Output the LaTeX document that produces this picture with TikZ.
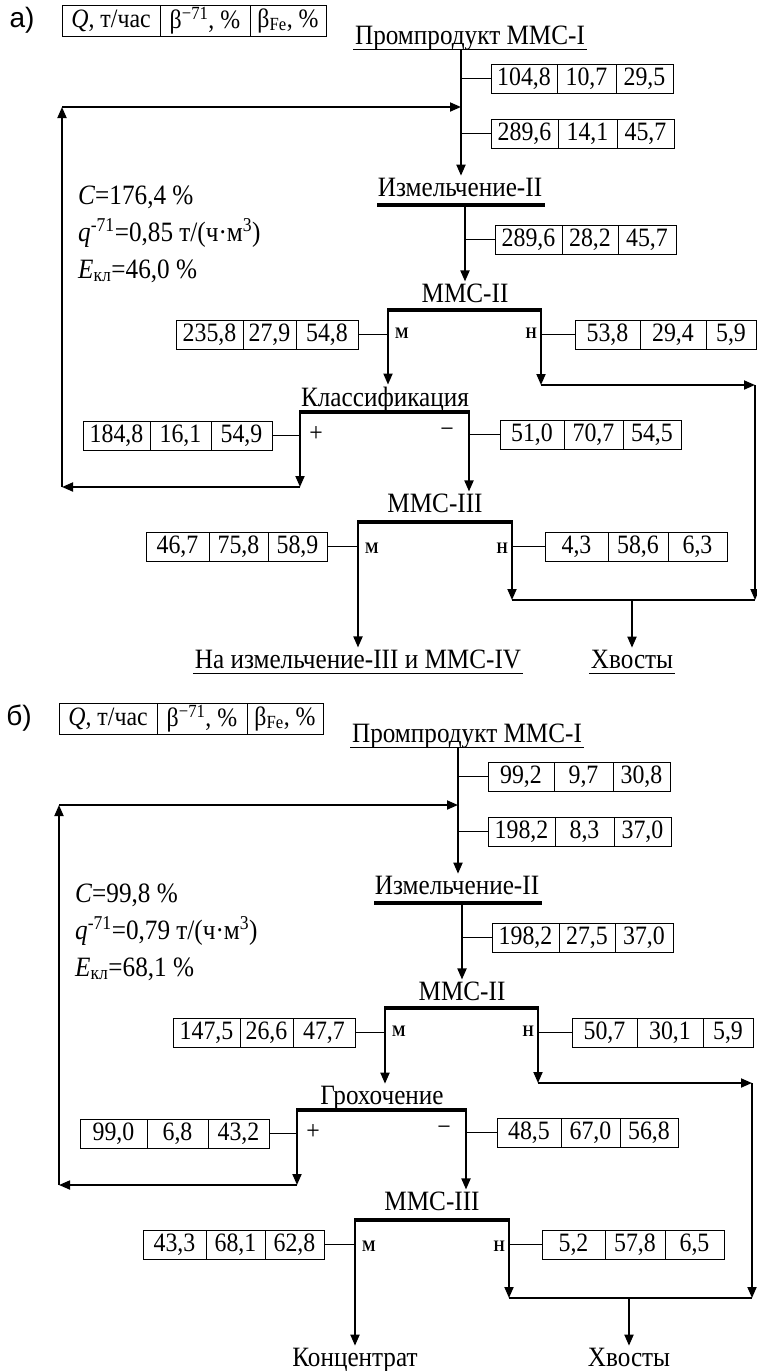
\documentclass[tikz,border=0pt]{standalone}
\usepackage{fontspec}
\setmainfont[FakeStretch=0.9]{Liberation Serif}
\newfontfamily\lblfont{Liberation Sans}
\usetikzlibrary{arrows.meta}

\tikzset{
  every node/.style={font=\fontsize{26.5}{30}\selectfont},
  cell/.style={draw, line width=0.8pt, minimum height=29pt, inner sep=0pt, outer sep=0pt, anchor=north west},
  flow/.style={line width=1.8pt, -{Triangle[length=11pt,width=9pt]}},
  plain/.style={line width=1.8pt},
  thinln/.style={line width=0.9pt},
  bar/.style={line width=4.5pt},
  ttl/.style={anchor=base, inner sep=0pt, outer sep=2pt, font=\fontsize{28}{32}\selectfont},
  ml/.style={font=\bfseries\fontsize{16}{18}\selectfont, inner sep=0pt, anchor=base},
  par/.style={anchor=base west, inner sep=0pt, font=\fontsize{28}{32}\selectfont},
}

\newcommand\tbl[9]{%
  \node[cell, minimum width=#4pt] (#1a) at (#2,#3) {#7};
  \node[cell, minimum width=#5pt] (#1b) at (#1a.north east) {#8};
  \node[cell, minimum width=#6pt] (#1c) at (#1b.north east) {#9};
}

\newcommand\panelbody[9]{%
  % label and header
  \node[font=\lblfont\fontsize{28}{30}\selectfont, inner sep=0pt] (lab) at (22,20) {\panellabel};
  \node[cell, minimum width=98pt, minimum height=31pt] (h1) at (62,5) {\textit{Q}, т/час};
  \node[cell, minimum width=90pt, minimum height=31pt] (h2) at (h1.north east) {β\textsuperscript{−71}, \%};
  \node[cell, minimum width=76pt, minimum height=31pt] (h3) at (h2.north east) {β\textsubscript{Fe}, \%};
  % feed
  \node[ttl] (pp) at (470,44) {Промпродукт ММС-I};
  \draw[thinln] ([yshift=-5pt]pp.base west) -- ([yshift=-5pt]pp.base east);
  \coordinate (top) at (461,49);
  \tbl{b1}{491}{64}{66}{59}{57}#1
  \tbl{b2}{491}{119}{67}{59}{57}#2
  \draw[thinln] (top |- b1a.west) -- (b1a.west);
  \draw[thinln] (top |- b2a.west) -- (b2a.west);
  % grinding
  \node[ttl] (izm) at (460,196) {Измельчение-II};
  \draw[flow] (top) -- (top |- izm.north);
  \coordinate (izmL) at (377,205);
  \coordinate (izmR) at (545,205);
  \coordinate (izmJ) at (465,205);
  \draw[bar] (izmL) -- (izmR);
  \tbl{b3}{495}{225}{67}{56}{58}#3
  \draw[thinln] (izmJ |- b3a.west) -- (b3a.west);
  % parameters
  \node[par] (pC) at (78,204) {\textit{C}=\pCv\ \%};
  \node[par] (pq) at (78,241) {\textit{q}\textsuperscript{-71}=\pqv\ т/(ч·м\textsuperscript{3})};
  \node[par] (pE) at (78,278) {\textit{E}\textsubscript{кл}=\pEv\ \%};
  % MMS-II
  \node[ttl] (m2) at (465,302) {ММС-II};
  \draw[flow] (izmJ) -- (izmJ |- m2.north);
  \coordinate (m2L) at (388,310);
  \coordinate (m2R) at (541,310);
  \draw[bar] ([xshift=-0.9pt]m2L) -- ([xshift=0.9pt]m2R);
  \tbl{b4}{176}{320}{67}{53}{62}#4
  \tbl{b5}{575}{320}{65}{66}{50}#5
  \draw[thinln] (b4c.east) -- (m2L |- b4c.east);
  \draw[thinln] (m2R |- b5a.west) -- (b5a.west);
  \node[ml, anchor=base west] (m2m) at (395,338) {М};
  \node[ml, anchor=base east] (m2n) at (537,338) {Н};
  % classification
  \node[ttl] (cl) at (385,406) {\clname};
  \draw[flow] (m2L) -- (m2L |- cl.north);
  \coordinate (rc) at (541,385);
  \coordinate (rr) at (755,385);
  \coordinate (rb) at (755,600);
  \draw[flow] (m2R) -- (rc);
  \draw[flow] (rc) -- (rr);
  \draw[flow] (rr) -- (rb);
  \coordinate (clL) at (300,412);
  \coordinate (clR) at (469,412);
  \draw[bar] ([xshift=-0.9pt]clL) -- ([xshift=0.9pt]clR);
  \tbl{b6}{83}{421}{67}{61}{61}#6
  \tbl{b7}{500}{420}{64}{59}{58}#7
  \node[inner sep=0pt] (plus) at (316,434) {+};
  \node[inner sep=0pt] (minus) at (447,433) {−};
  \draw[thinln] (b6c.east) -- (clL |- b6c.east);
  \draw[thinln] (clR |- b7a.west) -- (b7a.west);
  \coordinate (lb) at (300,487);
  \coordinate (lbl) at (62,487);
  \coordinate (ltl) at (62,107);
  \draw[flow] (clL) -- (lb);
  \draw[flow] (lb) -- (lbl);
  \draw[flow] (lbl) -- (ltl);
  \draw[flow] (ltl) -- (top |- ltl);
  % MMS-III
  \node[ttl] (m3) at (435,512) {ММС-III};
  \draw[flow] (clR) -- (clR |- m3.north);
  \coordinate (m3L) at (358,522);
  \coordinate (m3R) at (512,522);
  \draw[bar] ([xshift=-0.9pt]m3L) -- ([xshift=0.9pt]m3R);
  \tbl{b8}{146}{532}{63}{59}{59}#8
  \tbl{b9}{545}{532}{63}{60}{59}#9
  \draw[thinln] (b8c.east) -- (m3L |- b8c.east);
  \draw[thinln] (m3R |- b9a.west) -- (b9a.west);
  \node[ml, anchor=base west] (m3m) at (365,553) {М};
  \node[ml, anchor=base east] (m3n) at (508,553) {Н};
  % outputs
  \node[ttl] (out) at (358,668) {\outname};
  \draw[thinln] ([yshift=-5pt]out.base west) -- ([yshift=-5pt]out.base east);
  \node[ttl] (tl) at (632,668) {Хвосты};
  \draw[thinln] ([yshift=-5pt]tl.base west) -- ([yshift=-5pt]tl.base east);
  \draw[flow] (m3L) -- (m3L |- out.north);
  \coordinate (bc) at (512,600);
  \draw[flow] (m3R) -- (bc);
  \draw[plain] (bc) -- (rb);
  \draw[flow] (tl.north |- bc) -- (tl.north);
}

\begin{document}
\begin{tikzpicture}[x=1pt, y=-1pt]
\useasboundingbox (0,0) rectangle (757,1371);
\begin{scope}
  \def\panellabel{а)}
  \def\clname{Классификация}
  \def\outname{На измельчение-III и ММС-IV}
  \def\pCv{176,4}\def\pqv{0,85}\def\pEv{46,0}
  \panelbody{{104,8}{10,7}{29,5}}{{289,6}{14,1}{45,7}}{{289,6}{28,2}{45,7}}%
            {{235,8}{27,9}{54,8}}{{53,8}{29,4}{5,9}}{{184,8}{16,1}{54,9}}%
            {{51,0}{70,7}{54,5}}{{46,7}{75,8}{58,9}}{{4,3}{58,6}{6,3}}
\end{scope}
\begin{scope}[shift={(-3,698)}, name prefix=b-]
  \def\panellabel{б)}
  \def\clname{Грохочение}
  \def\outname{Концентрат}
  \def\pCv{99,8}\def\pqv{0,79}\def\pEv{68,1}
  \panelbody{{99,2}{9,7}{30,8}}{{198,2}{8,3}{37,0}}{{198,2}{27,5}{37,0}}%
            {{147,5}{26,6}{47,7}}{{50,7}{30,1}{5,9}}{{99,0}{6,8}{43,2}}%
            {{48,5}{67,0}{56,8}}{{43,3}{68,1}{62,8}}{{5,2}{57,8}{6,5}}
\end{scope}
\end{tikzpicture}
\end{document}
